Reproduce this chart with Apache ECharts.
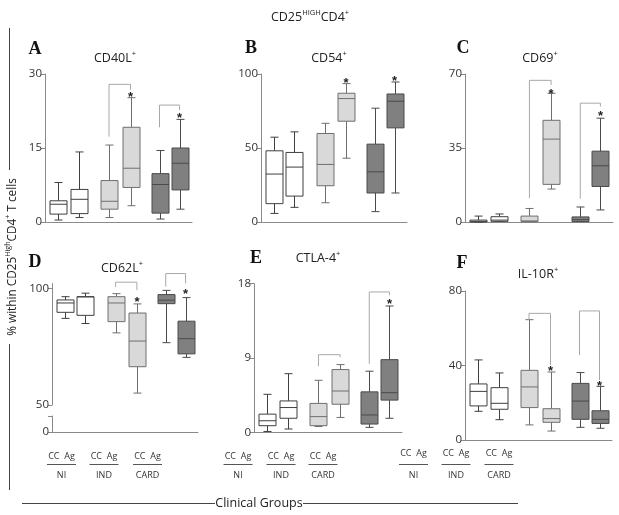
<!DOCTYPE html>
<html><head><meta charset="utf-8">
<script src="https://cdn.jsdelivr.net/npm/echarts@6/dist/echarts.min.js"></script>
<style>html,body{margin:0;padding:0;background:#fff}#c{width:619px;height:515px}</style>
</head><body><div id="c"></div>
<script>
// ---------------- DATA ----------------
const groups = ['NI', 'IND', 'CARD'];
const conditions = ['CC', 'Ag'];
// each box: [min, Q1, median, Q3, max]; order: NI-CC, NI-Ag, IND-CC, IND-Ag, CARD-CC, CARD-Ag
const cd40l = [[0.4,1.6,3.6,4.3,8.0],[0.9,1.7,4.6,6.6,14.2],[0.9,2.6,4.2,8.4,15.6],[3.3,7.0,10.9,19.2,25.2],[0.6,1.8,7.6,9.8,14.5],[2.6,6.5,11.9,15.0,20.8]];
const cd54  = [[5.8,12.4,32.4,48.1,57.3],[9.9,17.5,37.1,47.0,60.9],[13.0,24.5,38.9,59.8,66.7],[43.1,68.1,83.4,87.0,93.5],[7.0,19.6,33.9,52.6,76.9],[19.6,63.6,81.6,86.5,94.6]];
const cd69  = [[0,0,0.3,0.9,2.8],[0.3,0.3,0.9,2.5,3.8],[0.2,0.2,0.5,2.8,6.4],[15.6,17.8,39.2,48.1,60.9],[0.2,0.2,1.1,2.4,7.1],[5.7,16.8,26.6,33.5,49.1]];
const cd62l = [[87.1,89.7,93.7,95.0,96.4],[84.9,88.4,96.3,96.4,97.9],[80.9,85.7,93.7,96.4,97.7],[55.1,66.4,77.4,89.4,93.3],[76.7,93.4,94.9,97.3,99.1],[70.4,71.9,78.4,85.9,96.0]];
const ctla4 = [[0.1,0.8,1.4,2.2,4.6],[0.4,1.7,3.0,3.8,7.1],[0.7,0.8,1.9,3.5,6.3],[1.8,3.4,5.0,7.6,8.2],[0.6,1.0,2.1,4.9,7.4],[1.7,3.9,4.8,8.8,15.3]];
const il10r = [[15.4,18.3,26.1,30.1,43.0],[10.9,16.5,19.7,28.1,36.0],[8.1,17.4,28.5,37.4,64.6],[4.8,9.5,11.5,16.8,36.5],[6.8,11.1,20.9,30.4,36.2],[6.3,8.9,11.1,15.7,28.8]];
// brackets: [leftBox, rightBox, top, leftEnd, rightEnd]
const bracketsA = [[2,3,27.9,17.3,26.8],[4,5,23.7,19.2,22.7]];
const bracketsB = [];
const bracketsC = [[2,3,67.0,11.3,64.8],[4,5,56.2,11.0,54.6]];
const bracketsD = [[2,3,102.6,100.6,99.2],[4,5,106.3,100.7,102.1]];
const bracketsE = [[2,3,9.4,8.0,9.1],[4,5,17.0,8.3,16.6]];
const bracketsF = [[2,3,68.0,64.6,40.3],[4,5,69.3,45.6,32.2]];
// significance stars: [box, value]
const starsA = [[3,26.1],[5,21.9]];
const starsB = [[3,96.4],[5,97.5]];
const starsC = [[3,62.4],[5,51.8]];
const starsD = [[3,95.7],[5,99.0]];
const starsE = [[5,16.0]];
const starsF = [[3,39.0],[5,30.8]];
// axis ticks
const ticksA = [0,15,30], ticksB = [0,50,100], ticksC = [0,35,70], ticksD = [50,100], ticksE = [0,9,18], ticksF = [0,40,80];
const titles = ['CD40L', 'CD54', 'CD69', 'CD62L', 'CTLA-4', 'IL-10R'];
const letters = ['A','B','C','D','E','F'];

// ---------------- LAYOUT / STYLE ----------------
const xPos = [13, 33.5, 64, 85.5, 114.5, 134.5];
const fills = ['#ffffff', '#d9d9d9', '#808080'];
const strokes = ['#3f3f3f', '#6f6f6f', '#4a4a4a'];
const axisColor = '#8a8a8a';
const bracketColor = '#a8a8a8';
const sans = '"Open Sans","Noto Sans",sans-serif';

const panels = [
  {values: cd40l, br: bracketsA, st: starsA, ticks: ticksA, grid:{left:45,top:74,width:147,height:148}},
  {values: cd54,  br: bracketsB, st: starsB, ticks: ticksB, grid:{left:261,top:74,width:146,height:148}},
  {values: cd69,  br: bracketsC, st: starsC, ticks: ticksC, grid:{left:465,top:74,width:148,height:148}},
  {values: cd62l, br: bracketsD, st: starsD, ticks: ticksD, grid:{left:52,top:283.6,width:146,height:121.4}, max:102, noX:true},
  {values: ctla4, br: bracketsE, st: starsE, ticks: ticksE, grid:{left:254,top:283.7,width:148,height:148.6}},
  {values: il10r, br: bracketsF, st: starsF, ticks: ticksF, grid:{left:465,top:291,width:147,height:149}}
];

function renderBox(params, api) {
  const g = Math.floor(params.dataIndex / 2);
  const x = api.value(0);
  const c = k => api.coord([x, api.value(k)]);
  const pMin = c(1), pQ1 = c(2), pMed = c(3), pQ3 = c(4), pMax = c(5);
  const cx = Math.round(pMin[0]) + 0.5, hw = 8.5, cap = 4;
  const st = {stroke: strokes[g], lineWidth: 1, fill: null};
  return {type:'group', children:[
    {type:'line', shape:{x1:cx,y1:pMax[1],x2:cx,y2:pQ3[1]}, style:st},
    {type:'line', shape:{x1:cx,y1:pQ1[1],x2:cx,y2:pMin[1]}, style:st},
    {type:'line', shape:{x1:cx-cap,y1:pMax[1],x2:cx+cap,y2:pMax[1]}, style:st},
    {type:'line', shape:{x1:cx-cap,y1:pMin[1],x2:cx+cap,y2:pMin[1]}, style:st},
    {type:'rect', shape:{x:cx-hw,y:pQ3[1],width:2*hw,height:Math.max(1,pQ1[1]-pQ3[1])}, style:{fill:fills[g],stroke:strokes[g],lineWidth:1}},
    {type:'line', shape:{x1:cx-hw,y1:pMed[1],x2:cx+hw,y2:pMed[1]}, style:st}
  ]};
}
function renderBracket(params, api) {
  const l1 = api.coord([api.value(0), api.value(2)]);
  const l2 = api.coord([api.value(0), api.value(3)]);
  const r1 = api.coord([api.value(1), api.value(2)]);
  const r2 = api.coord([api.value(1), api.value(4)]);
  return {type:'polyline', shape:{points:[[l2[0],l2[1]],[l1[0],l1[1]],[r1[0],r1[1]],[r2[0],r2[1]]]},
    style:{stroke: bracketColor, lineWidth: 1, fill: null}};
}
function renderStar(params, api) {
  const p = api.coord([api.value(0), api.value(1)]);
  return {type:'text', style:{text:'*', x:p[0], y:p[1]+4, align:'center', verticalAlign:'middle',
    font:'bold 13px "Liberation Sans", sans-serif', fill:'#222'}};
}

const grid = [], xAxis = [], yAxis = [], series = [];
panels.forEach((p, i) => {
  grid.push(p.grid);
  xAxis.push({type:'value', gridIndex:i, min:0, max:147, show: !p.noX,
    axisLine:{show:!p.noX, lineStyle:{color:axisColor}}, axisTick:{show:false}, axisLabel:{show:false}, splitLine:{show:false}});
  const ymin = p.ticks[0], ymax = p.max != null ? p.max : p.ticks[p.ticks.length-1];
  yAxis.push({type:'value', gridIndex:i, min:ymin, max:ymax,
    axisLine:{show:true, lineStyle:{color:axisColor}},
    axisTick:{show:true, length:4, lineStyle:{color:axisColor}, customValues:p.ticks},
    axisLabel:{color:'#333', fontSize:11.5, fontFamily:sans, margin:3, customValues:p.ticks},
    splitLine:{show:false}});
  series.push({type:'custom', xAxisIndex:i, yAxisIndex:i, renderItem:renderBox, clip:false,
    encode:{x:0, y:[1,2,3,4,5]}, data: p.values.map((v,k)=>[xPos[k], ...v])});
  if (p.br.length) series.push({type:'custom', xAxisIndex:i, yAxisIndex:i, renderItem:renderBracket, clip:false,
    encode:{x:[0,1], y:[2,3,4]}, data: p.br.map(b=>[xPos[b[0]], xPos[b[1]], b[2], b[3], b[4]])});
  series.push({type:'custom', xAxisIndex:i, yAxisIndex:i, renderItem:renderStar, clip:false,
    encode:{x:0, y:1}, data: p.st.map(s=>[xPos[s[0]], s[1]])});
});
// lower segment of the broken axis in panel D
grid.push({left:52, top:416, width:146, height:16});
xAxis.push({type:'value', gridIndex:6, min:0, max:147, axisLine:{lineStyle:{color:axisColor}},
  axisTick:{show:false}, axisLabel:{show:false}, splitLine:{show:false}});
yAxis.push({type:'value', gridIndex:6, min:0, max:1,
  axisLine:{show:true, lineStyle:{color:axisColor}},
  axisTick:{show:true, length:4, lineStyle:{color:axisColor}, customValues:[0,1]},
  axisLabel:{color:'#333', fontSize:11.5, fontFamily:sans, margin:3, customValues:[0]}, splitLine:{show:false}});

// ---------------- TEXT ----------------
const graphic = [];
function richFor(size) {
  return {
    n:{fontSize:size, fontFamily:sans, fill:'#222', lineHeight:size+4, verticalAlign:'bottom'},
    s:{fontSize:Math.round(size*0.6*10)/10, fontFamily:sans, fill:'#222', lineHeight:size+4, verticalAlign:'top', padding:[1,0,0,0]}
  };
}
function supText(x, y, str, size, rot) {
  return {type:'text', x, y, rotation: rot || 0, originX:0, originY:0,
    style:{text: str, rich: richFor(size), align:'center', verticalAlign:'middle'}};
}
graphic.push(supText(310, 16, '{n|CD25}{s|HIGH}{n|CD4}{s|+}', 12.5));
const titlePos = [[115,57],[329,57],[540,57],[122,267],[318,257],[538,273]];
const letterPos = [[35,49],[251,48],[463,48],[35,262],[256,258],[462,263]];
titles.forEach((t, i) => {
  graphic.push(supText(titlePos[i][0], titlePos[i][1], '{n|' + t + '}{s|+}', 12.5));
  graphic.push({type:'text', x:letterPos[i][0], y:letterPos[i][1], style:{text:letters[i], align:'center', verticalAlign:'middle',
    font:'bold 18px "Liberation Serif", serif', fill:'#111'}});
});
// y title + frame line
graphic.push(supText(11, 257, '{n|% within CD25}{s|High}{n|CD4}{s|+}{n| T cells}', 11.8, Math.PI/2));
graphic.push({type:'line', shape:{x1:9.5,y1:28,x2:9.5,y2:170}, style:{stroke:'#444', lineWidth:1}});
graphic.push({type:'line', shape:{x1:9.5,y1:344,x2:9.5,y2:490}, style:{stroke:'#444', lineWidth:1}});
// group labels under the bottom row
const groupCenters = [[61.5,104,147.5],[238,281,323],[413.5,456,499]];
const condY = [456, 456, 453];
groupCenters.forEach((row, r) => row.forEach((cx, g) => {
  graphic.push({type:'text', x:cx, y:condY[r], style:{text: conditions.join('  '), align:'center', verticalAlign:'middle',
    font:'9px ' + sans, fill:'#333'}});
  graphic.push({type:'line', shape:{x1:cx-14.5,y1:464.5,x2:cx+14.5,y2:464.5}, style:{stroke:'#555', lineWidth:1}});
  graphic.push({type:'text', x:cx, y:475, style:{text: groups[g], align:'center', verticalAlign:'middle',
    font:'9px ' + sans, fill:'#333'}});
}));
graphic.push({type:'text', x:259, y:503, style:{text:'Clinical Groups', align:'center', verticalAlign:'middle', font:'12.5px ' + sans, fill:'#222'}});
graphic.push({type:'line', shape:{x1:22,y1:503.5,x2:215,y2:503.5}, style:{stroke:'#444', lineWidth:1}});
graphic.push({type:'line', shape:{x1:303,y1:503.5,x2:518,y2:503.5}, style:{stroke:'#444', lineWidth:1}});

const chart = echarts.init(document.getElementById('c'), null, {renderer:'canvas'});
chart.setOption({animation:false, backgroundColor:'#fff', grid, xAxis, yAxis, series, graphic});
</script></body></html>
